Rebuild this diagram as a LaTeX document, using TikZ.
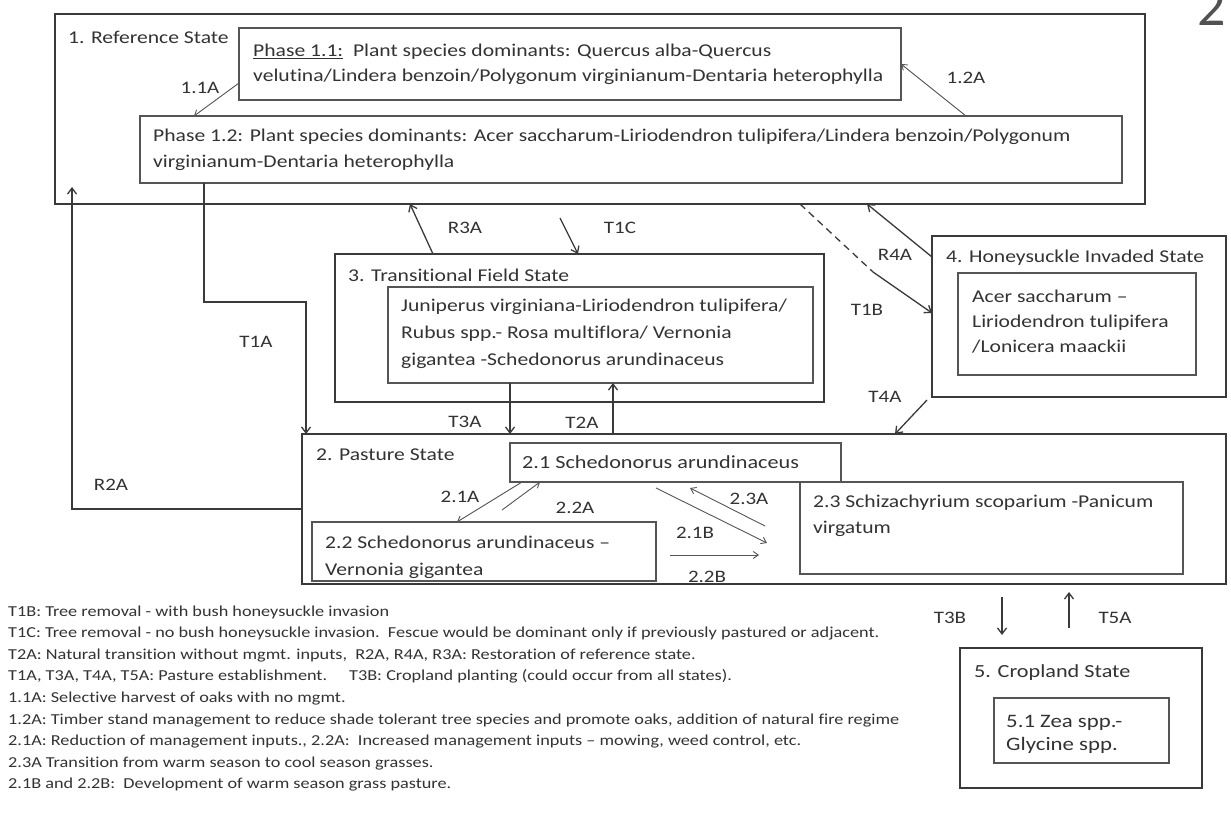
\documentclass[tikz,border=0pt]{standalone}
\usepackage{fontspec}
\setmainfont{Carlito}[FakeStretch=1.2,Ligatures=NoCommon]
\newfontfamily\bigfont{Carlito}
\usetikzlibrary{arrows.meta,calc}
\definecolor{linec}{HTML}{3A3A3A}
\definecolor{linec2}{HTML}{555555}
\definecolor{txtc}{HTML}{333333}
\begin{document}
\begin{tikzpicture}[x=1pt,y=-1pt,
  state/.style={draw=linec, line width=2.2pt, anchor=north west, inner sep=0pt, outer sep=0pt},
  inbox/.style={draw=linec2, line width=1.2pt, anchor=north west, inner sep=0pt, outer sep=0pt},
  btxt/.style={anchor=base west, inner sep=0pt, text=txtc, align=left},
  ttl/.style={anchor=west, inner sep=0pt, text=txtc, font=\fontsize{18}{21}\selectfont},
  lbl/.style={inner sep=0pt, text=txtc, font=\fontsize{17.5}{20}\selectfont},
  leg/.style={anchor=base west, inner sep=0pt, text=txtc, font=\fontsize{15.2}{18}\selectfont},
  arr/.style={draw=linec, line width=1.3pt, -{Straight Barb[length=6pt,width=9pt]}},
  thinarr/.style={draw=linec2, line width=0.9pt, -{Straight Barb[length=5pt,width=7pt]}},
]
\useasboundingbox (0,0) rectangle (1231,821);
\fill[white] (0,0) rectangle (1231,821);

% ---------- State 1 ----------
\node[state, minimum width=1090pt, minimum height=190pt] (s1) at (55,14) {};
\node[ttl] (s1t) at (68,37) {1. Reference State};
\node[inbox, minimum width=662pt, minimum height=72pt] (p11) at (239,28) {};
\node[btxt, font=\fontsize{18}{25}\selectfont] (p11t) at (253,82)
  {\underline{Phase 1.1:}\ \ Plant species dominants: Quercus alba-Quercus\\velutina/Lindera benzoin/Polygonum virginianum-Dentaria heterophylla};
\node[inbox, minimum width=982pt, minimum height=67pt] (p12) at (140,116) {};
\node[btxt, font=\fontsize{18}{26}\selectfont] (p12t) at (153,168)
  {Phase 1.2: Plant species dominants: Acer saccharum-Liriodendron tulipifera/Lindera benzoin/Polygonum\\virginianum-Dentaria heterophylla};

\node[anchor=base west, inner sep=0pt, text=txtc!85, font=\bigfont\fontsize{56}{60}\selectfont] (big2) at (1197,26) {2};

% ---------- State 3 ----------
\node[state, minimum width=489pt, minimum height=148pt] (s3) at (335,254) {};
\node[ttl] (s3t) at (348,275) {3. Transitional Field State};
\node[inbox, minimum width=425pt, minimum height=96pt] (s3i) at (388,287) {};
\node[btxt, font=\fontsize{18}{27}\selectfont] (s3it) at (401,365)
  {Juniperus virginiana-Liriodendron tulipifera/\\Rubus spp.- Rosa multiflora/ Vernonia\\gigantea -Schedonorus arundinaceus};

% ---------- State 4 ----------
\node[state, minimum width=294pt, minimum height=161pt] (s4) at (932,236) {};
\node[ttl] (s4t) at (946,258) {4. Honeysuckle Invaded State};
\node[inbox, minimum width=238pt, minimum height=102pt] (s4i) at (958,273) {};
\node[btxt, font=\fontsize{18}{25}\selectfont] (s4it) at (972,352)
  {Acer saccharum --\\Liriodendron tulipifera\\/Lonicera maackii};

% ---------- State 2 ----------
\node[state, minimum width=924pt, minimum height=150pt] (s2) at (302,434) {};
\node[ttl] (s2t) at (316,455) {2. Pasture State};
\node[inbox, minimum width=331pt, minimum height=39pt] (b21) at (510,443) {};
\node[btxt, font=\fontsize{18.5}{25}\selectfont] (b21t) at (522,468) {2.1 Schedonorus arundinaceus};
\node[inbox, minimum width=344pt, minimum height=59pt] (b22) at (312,522) {};
\node[btxt, font=\fontsize{18}{27}\selectfont] (b22t) at (325,575)
  {2.2 Schedonorus arundinaceus --\\Vernonia gigantea};
\node[inbox, minimum width=383pt, minimum height=92pt] (b23) at (800,482) {};
\node[btxt, font=\fontsize{18}{26}\selectfont] (b23t) at (813,533)
  {2.3 Schizachyrium scoparium -Panicum\\virgatum};

% ---------- State 5 ----------
\node[state, minimum width=242pt, minimum height=140pt] (s5) at (960,648) {};
\node[ttl, font=\fontsize{18.5}{21}\selectfont] (s5t) at (974,673) {5. Cropland State};
\node[inbox, minimum width=175pt, minimum height=65pt] (s5i) at (994,698) {};
\node[btxt, font=\fontsize{19}{23}\selectfont] (s5it) at (1006,750)
  {5.1 Zea spp.-\\Glycine spp.};

% ---------- connectors ----------
\draw[thinarr] (p11.west |- 0,83) -- (p12.north -| 194,0);
\node[lbl] (l11a) at (200,88) {1.1A};
\draw[thinarr] (p12.north -| 966,0) -- (p11.east |- 0,64);
\node[lbl] (l12a) at (966,78) {1.2A};

\draw[arr] (p12.south -| 204,0) |- (306,302) -- (s2.north -| 306,0);
\node[lbl] (lt1a) at (256,342) {T1A};

\coordinate (r2tip) at (72,187);
\draw[arr] (s2.west |- 0,509) -| (r2tip);
\node[lbl] (lr2a) at (111,485) {R2A};

\draw[arr] (s3.north -| 433,0) -- (s1.south -| 410,0);
\node[lbl] (lr3a) at (465,228) {R3A};
\draw[arr] ($(s1.south -| 560,0)+(0,14)$) -- (s3.north -| 578,0);
\node[lbl] (lt1c) at (620,228) {T1C};

\coordinate (t1bmid) at (873,272);
\draw[draw=linec, line width=1.3pt, dash pattern=on 7pt off 5pt] (s1.south -| 800,0) -- (t1bmid);
\draw[arr] (t1bmid) -- (s4.west |- 0,313);
\node[lbl] (lt1b) at (867,310) {T1B};
\draw[arr] (s4.west |- 0,257) -- (s1.south -| 867,0);
\node[lbl] (lr4a) at (895,255) {R4A};
\draw[arr] ($(s4.south west)+(-5,3)$) -- (s2.north -| 895,0);
\node[lbl] (lt4a) at (885,397) {T4A};

\draw[arr] (s3i.south -| 510,0) -- (s2.north -| 510,0);
\node[lbl] (lt3a) at (465,422) {T3A};
\draw[arr] (s2.north -| 613,0) -- (s3i.south -| 613,0);
\node[lbl] (lt2a) at (582,423) {T2A};

\draw[thinarr] (b21.south -| 522,0) -- (b22.north -| 457,0);
\node[lbl] (l21a) at (460,497) {2.1A};
\draw[thinarr] (502,510) -- (b21.south -| 540,0);
\node[lbl] (l22a) at (575,508) {2.2A};
\draw[thinarr] (765,526) -- ($(b21.south -| 690,0)+(0,6)$);
\node[lbl] (l23a) at (749,499) {2.3A};
\draw[thinarr] ($(b21.south -| 656,0)+(0,6)$) -- (767,543);
\node[lbl] (l21b) at (695,533) {2.1B};
\draw[thinarr] ($(b22.east |- 0,555)+(14,0)$) -- (759,555);
\node[lbl] (l22b) at (707,577) {2.2B};

\draw[arr] ($(s2.south -| 1002,0)+(0,13)$) -- ($(s5.north -| 1002,0)+(0,-13)$);
\node[lbl] (lt3b) at (950,618) {T3B};
\draw[arr] ($(s5.north -| 1069,0)+(0,-20)$) -- ($(s2.south -| 1069,0)+(0,8)$);
\node[lbl] (lt5a) at (1115,618) {T5A};

% ---------- legend ----------
\node[leg] (g1) at (8,616) {T1B: Tree removal - with bush honeysuckle invasion};
\node[leg] (g2) at (8,637.6) {T1C: Tree removal - no bush honeysuckle invasion.\ \ Fescue would be dominant only if previously pastured or adjacent.};
\node[leg] (g3) at (8,659.2) {T2A: Natural transition without mgmt. inputs,\ \ R2A, R4A, R3A: Restoration of reference state.};
\node[leg] (g4) at (8,680.8) {T1A, T3A, T4A, T5A: Pasture establishment.\hspace{22pt}T3B: Cropland planting (could occur from all states).};
\node[leg] (g5) at (8,702.4) {1.1A: Selective harvest of oaks with no mgmt.};
\node[leg] (g6) at (8,724) {1.2A: Timber stand management to reduce shade tolerant tree species and promote oaks, addition of natural fire regime};
\node[leg] (g7) at (8,745.6) {2.1A: Reduction of management inputs., 2.2A:\ \ Increased management inputs -- mowing, weed control, etc.};
\node[leg] (g8) at (8,767.2) {2.3A Transition from warm season to cool season grasses.};
\node[leg] (g9) at (8,788.8) {2.1B and 2.2B:\ \ Development of warm season grass pasture.};
\end{tikzpicture}
\end{document}
